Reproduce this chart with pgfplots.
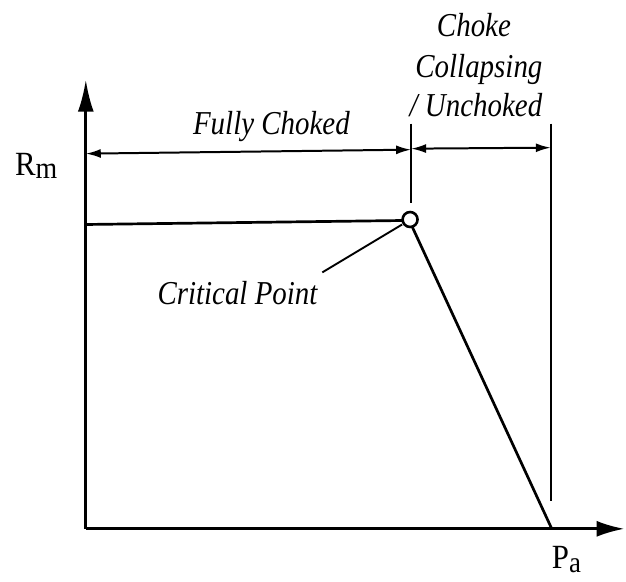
\documentclass[border=0pt]{standalone}
\usepackage{fontspec}
\setmainfont{Liberation Serif}
\usepackage{pgfplots}
\pgfplotsset{compat=1.18}
\usetikzlibrary{arrows.meta}
\newcommand{\lbl}[1]{\scalebox{0.97}[1.12]{#1}}
\begin{document}
\begin{tikzpicture}
\begin{axis}[
 scale only axis, width=540bp, height=450bp,
 xmin=0,xmax=540,ymin=0,ymax=450,
 axis lines=left, ticks=none,
 axis line style={line width=2.8bp},
 x axis line style={-{Latex[length=28bp,width=16bp]}},
 y axis line style={-{Latex[length=32bp,width=16bp]}},
 clip=false,
]
\path (axis cs:-86,-53) rectangle (axis cs:540,530);
% plateau and collapse line
\addplot[mark=none, line width=2.7bp] coordinates {(0,305) (318,309)};
\addplot[mark=none, line width=2.7bp] coordinates {(327,303) (467,0)};
\addplot[only marks, mark=o, mark size=7.5bp, mark options={line width=2.6bp}] coordinates {(325,310)};
% region boundaries
\addplot[mark=none, line width=2.3bp] coordinates {(326,406) (326,327)};
\addplot[mark=none, line width=2.3bp] coordinates {(466,406) (466,28)};
% dimension arrows
\addplot[mark=none, line width=2bp, {Latex[length=15bp,width=9bp]}-{Latex[length=15bp,width=9bp]}] coordinates {(0,376) (326,380)};
\addplot[mark=none, line width=2bp, {Latex[length=15bp,width=9bp]}-{Latex[length=15bp,width=9bp]}] coordinates {(326,381) (466,382)};
% leader line
\addplot[mark=none, line width=1.9bp] coordinates {(237,257) (317,305)};
% labels
\node[anchor=base, font=\itshape\fontsize{30}{36}\selectfont] at (axis cs:186,395) {\lbl{Fully Choked}};
\node[anchor=base, font=\itshape\fontsize{30}{36}\selectfont] at (axis cs:389,493) {\lbl{Choke}};
\node[anchor=base, font=\itshape\fontsize{30}{36}\selectfont] at (axis cs:394,452) {\lbl{Collapsing}};
\node[anchor=base, font=\itshape\fontsize{30}{36}\selectfont] at (axis cs:391,413) {\lbl{/ Unchoked}};
\node[anchor=base, font=\itshape\fontsize{30}{36}\selectfont] at (axis cs:152,225) {\lbl{Critical Point}};
\node[anchor=base west, inner sep=0pt, font=\fontsize{31}{36}\selectfont] at (axis cs:-71,354) {\scalebox{1}[1.1]{R\raisebox{-3bp}{\fontsize{28}{30}\selectfont m}}};
\node[anchor=base west, inner sep=0pt, font=\fontsize{31}{36}\selectfont] at (axis cs:467,-40) {\scalebox{1}[1.1]{P\raisebox{-3bp}{\fontsize{27}{30}\selectfont a}}};
\end{axis}
\end{tikzpicture}
\end{document}
